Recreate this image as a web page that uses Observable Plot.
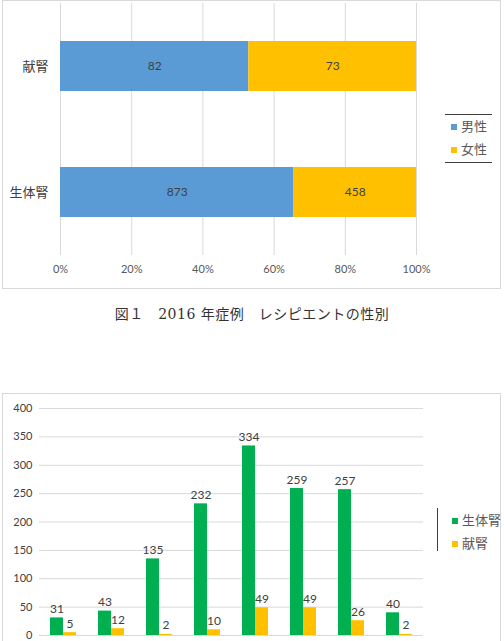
<!DOCTYPE html>
<html>
<head>
<meta charset="utf-8">
<script src="https://cdn.jsdelivr.net/npm/d3@7"></script>
<script src="https://cdn.jsdelivr.net/npm/@observablehq/plot@0.6"></script>
<style>
  html, body { margin: 0; padding: 0; background: #fff; }
  body { width: 504px; height: 641px; position: relative; overflow: hidden;
         font-family: Lato, "Noto Sans CJK JP", sans-serif; color: #595959; }
  .box { position: absolute; border: 1px solid #d9d9d9; box-sizing: border-box; }
  .chart { position: absolute; }
  .legend { position: absolute; font-size: 13px; color: #595959; font-family: "Noto Sans CJK JP", sans-serif; }
  .legend .item { position: absolute; white-space: nowrap; line-height: 16px; }
  .legend .sw { display: inline-block; width: 6px; height: 6px; margin-right: 4px; vertical-align: 1px; }
  .caption { position: absolute; left: 0; width: 504px; top: 303px; text-align: center;
             font-family: "DejaVu Serif", "Liberation Serif", "Noto Sans CJK JP", serif;
             font-size: 14px; color: #333; letter-spacing: 0.5px; }
</style>
</head>
<body>
<div class="box" style="left:2px; top:0px; width:499px; height:289px;"></div>
<div id="top" class="chart" style="left:2px; top:0px;"></div>
<div class="legend" style="left:445px; top:114px; width:47px; height:47px; border-top:1.5px solid #404040; border-bottom:1.5px solid #404040;">
  <div class="item" style="left:6px; top:3px;"><span class="sw" style="background:#5B9BD5"></span>男性</div>
  <div class="item" style="left:6px; top:26px;"><span class="sw" style="background:#FFC000"></span>女性</div>
</div>
<div class="caption">図１　2016 年症例　レシピエントの性別</div>

<div class="box" style="left:2px; top:393px; width:499px; height:270px;"></div>
<div id="bottom" class="chart" style="left:2px; top:393px;"></div>
<div class="legend" style="left:437px; top:508px; width:60px; height:43px; border-left:1.5px solid #404040;">
  <div class="item" style="left:14px; top:4px;"><span class="sw" style="background:#00B050"></span>生体腎</div>
  <div class="item" style="left:14px; top:27px;"><span class="sw" style="background:#FFC000"></span>献腎</div>
</div>

<script>
// 図1: donor type × recipient sex (2016)
const donorTypes = ["献腎", "生体腎"];
const sexes = ["男性", "女性"];
const maleCounts = [82, 873];
const femaleCounts = [73, 458];
const pctTicks = [0, 0.2, 0.4, 0.6, 0.8, 1];

// Recipient counts by age group and donor type
const ageGroups = ["0-9歳", "10-19歳", "20-29歳", "30-39歳", "40-49歳", "50-59歳", "60-69歳", "70歳-"];
const kinds = ["生体腎", "献腎"];
const livingCounts = [31, 43, 135, 232, 334, 259, 257, 40];
const deceasedCounts = [5, 12, 2, 10, 49, 49, 26, 2];
const countTicks = [0, 50, 100, 150, 200, 250, 300, 350, 400];

const sexRows = donorTypes.flatMap((t, i) => [
  {type: t, sex: sexes[0], count: maleCounts[i]},
  {type: t, sex: sexes[1], count: femaleCounts[i]}
]);

const topChart = Plot.plot({
  width: 498, height: 288,
  marginLeft: 58, marginRight: 84, marginTop: 3, marginBottom: 33,
  style: {fontFamily: 'Lato, "Noto Sans CJK JP", sans-serif', color: "#595959", background: "transparent"},
  x: {domain: [0, 1], label: null},
  y: {domain: donorTypes, paddingInner: 0.6, paddingOuter: 0.3, label: null},
  color: {domain: sexes, range: ["#5B9BD5", "#FFC000"]},
  marks: [
    Plot.gridX(pctTicks, {stroke: "#d9d9d9", strokeOpacity: 1}),
    Plot.axisX(pctTicks, {tickSize: 0, tickPadding: 10, tickFormat: d3.format(".0%"), fontSize: 11, fill: "#595959", label: null}),
    Plot.axisY({tickSize: 0, tickPadding: 12, fontSize: 13, fill: "#404040", fontFamily: '"Noto Sans CJK JP", sans-serif', label: null}),
    Plot.barX(sexRows, Plot.stackX({offset: "normalize", x: "count", y: "type", fill: "sex"})),
    Plot.text(sexRows, Plot.stackX({offset: "normalize", x: "count", y: "type", text: "count", fill: "#404040", fontSize: 12}))
  ]
});
document.getElementById("top").append(topChart);

const ageRows = ageGroups.flatMap((a, i) => [
  {age: a, kind: kinds[0], count: livingCounts[i]},
  {age: a, kind: kinds[1], count: deceasedCounts[i]}
]);

const bottomChart = Plot.plot({
  width: 498, height: 250,
  marginLeft: 35, marginRight: 76, marginTop: 15, marginBottom: 8,
  style: {fontFamily: 'Lato, "Noto Sans CJK JP", sans-serif', color: "#595959", background: "transparent"},
  fx: {domain: ageGroups, padding: 0, axis: null, label: null},
  x: {domain: kinds, paddingInner: 0, paddingOuter: 0.73, axis: null},
  y: {domain: [0, 400], label: null},
  color: {domain: kinds, range: ["#00B050", "#FFC000"]},
  marks: [
    Plot.gridY(countTicks, {stroke: "#d9d9d9", strokeOpacity: 1}),
    Plot.axisY(countTicks, {tickSize: 0, tickPadding: 7, fontSize: 11, fill: "#404040", label: null}),
    Plot.barY(ageRows, {fx: "age", x: "kind", y: "count", fill: "kind"}),
    Plot.text(ageRows, {fx: "age", x: "kind", y: "count", text: "count", dy: -5, lineAnchor: "bottom", fontSize: 12, fill: "#404040"})
  ]
});
document.getElementById("bottom").append(bottomChart);
</script>
</body>
</html>
